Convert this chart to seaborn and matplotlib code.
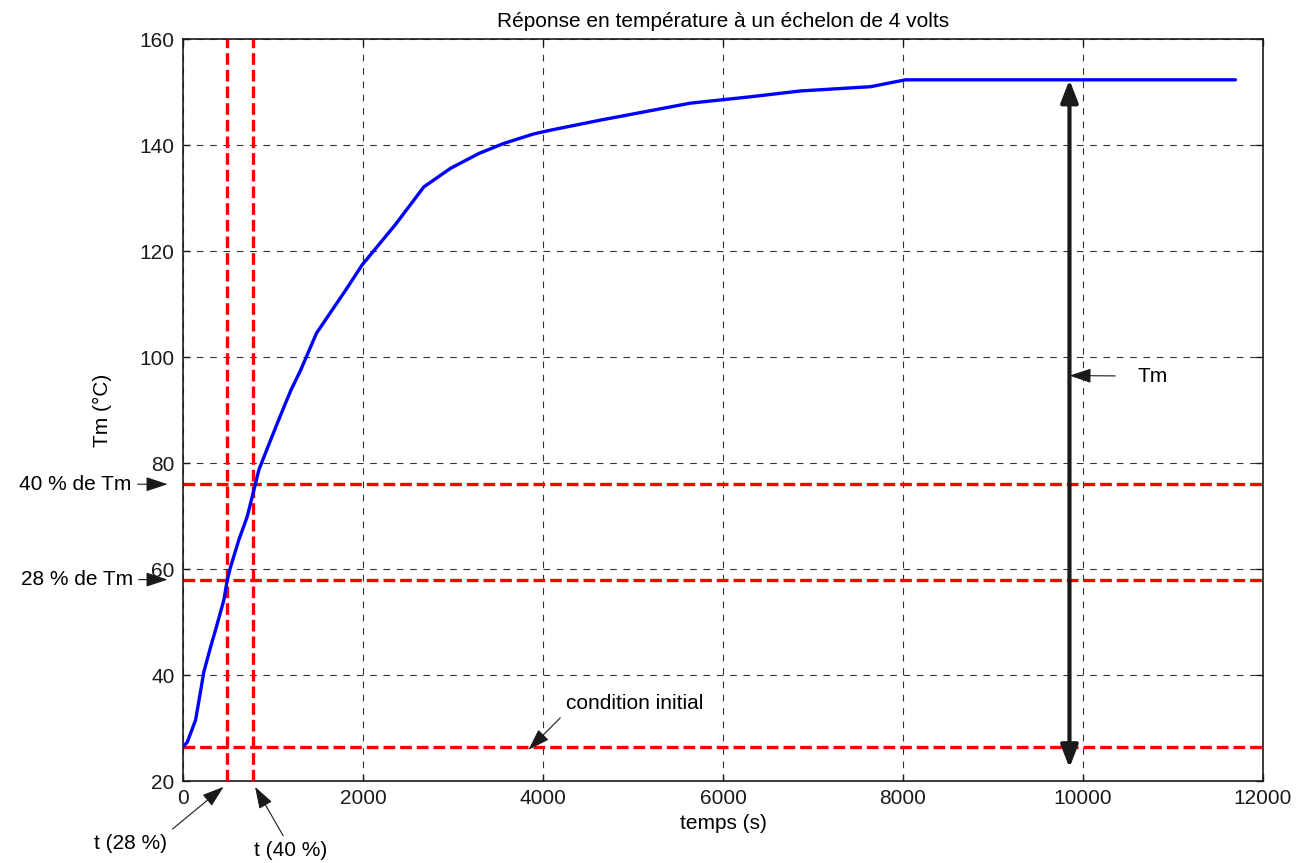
import matplotlib
matplotlib.use("Agg")
import matplotlib.pyplot as plt
import seaborn as sns
import pandas as pd

# Measured step response of the heater (4 V step)
temps_s = [0, 46, 139, 190, 231, 306, 361, 454, 491, 528, 620, 713, 787, 842, 972,
           1083, 1200, 1306, 1483, 1806, 1991, 2360, 2676, 2972, 3287, 3564,
           3898, 4083, 4639, 5639, 6306, 6861, 7639, 8028, 9000, 10000, 11694]
temperature = [26.5, 27.3, 31.5, 36.5, 40.6, 45.3, 48.5, 54.2, 57.9, 60.4, 65.5,
               69.9, 74.9, 78.7, 84.3, 89.0, 93.8, 97.5, 104.5, 112.6, 117.4,
               125.0, 132.1, 135.6, 138.4, 140.3, 142.1, 142.8, 144.7, 147.9,
               149.1, 150.2, 151.0, 152.3, 152.3, 152.3, 152.3]

# Reference levels and times
t_ini = 26.5
t_final = 152.3
level_40 = 76.0
level_28 = 58.0
time_28 = 490
time_40 = 775
tm_arrow_x = 9850

df = pd.DataFrame({"temps": temps_s, "T": temperature})

sns.set_theme(style="white")
plt.rcParams["font.family"] = ["Liberation Sans", "DejaVu Sans"]
plt.rcParams["font.size"] = 15
plt.rcParams["text.color"] = "black"
plt.rcParams["axes.labelcolor"] = "black"
plt.rcParams["xtick.color"] = "black"
plt.rcParams["ytick.color"] = "black"

fig = plt.figure(figsize=(13.02, 8.63), dpi=100)
ax = fig.add_axes([0.1406, 0.095, 0.8294, 0.8598])

sns.lineplot(data=df, x="temps", y="T", ax=ax, color="#0000ff", linewidth=2.4,
             zorder=4)

red_style = dict(color="#ff0000", linewidth=2.4, linestyle=(0, (3.5, 1.5)), zorder=3)
for lvl in (level_40, level_28, t_ini):
    ax.axhline(lvl, **red_style)
for tv in (time_28, time_40):
    ax.axvline(tv, **red_style)

ax.set_xlim(0, 12000)
ax.set_ylim(20, 160)
ax.set_xticks(range(0, 12001, 2000))
ax.set_yticks(range(20, 161, 20))
ax.grid(True, color="#333333", linestyle=(0, (6, 6)), linewidth=0.8)
ax.tick_params(direction="in", length=5, width=1, top=True, right=True,
               labelsize=15, colors="k", pad=6, bottom=True, left=True)
for s in ax.spines.values():
    s.set_color("k")
    s.set_linewidth(1.2)

ax.set_title("Réponse en température à un échelon de 4 volts", fontsize=15, pad=9)
ax.set_xlabel("temps (s)", fontsize=15, labelpad=4)
ax.set_ylabel("Tm (°C)", fontsize=15, labelpad=20)

# Double arrow showing the amplitude Tm
ax.annotate("", xy=(tm_arrow_x, t_final), xytext=(tm_arrow_x, 22.5),
            arrowprops=dict(arrowstyle="<|-|>,head_length=0.9,head_width=0.35",
                            color="k", lw=3, shrinkA=0, shrinkB=0),
            zorder=5)

head = "-|>,head_length=0.9,head_width=0.3"
thin = dict(arrowstyle=head, color="k", lw=0.8, shrinkA=2, shrinkB=0)

ax.annotate("Tm", xy=(tm_arrow_x, 96.5), xytext=(10611, 96.4),
            ha="left", va="center", fontsize=15,
            arrowprops=dict(thin, relpos=(0, 0.5), shrinkA=14))
ax.annotate("condition initial", xy=(3839, 25.9), xytext=(4250, 34.7),
            ha="left", va="center", fontsize=15,
            arrowprops=dict(thin, relpos=(0, 0)))
ax.annotate("40 % de Tm", xy=(-172, level_40), xytext=(-570, level_40),
            ha="right", va="center", fontsize=15, annotation_clip=False,
            arrowprops=dict(thin, relpos=(1, 0.5)))
ax.annotate("28 % de Tm", xy=(-172, level_28), xytext=(-560, level_28),
            ha="right", va="center", fontsize=15, annotation_clip=False,
            arrowprops=dict(thin, relpos=(1, 0.5)))
ax.annotate("t (28 %)", xy=(450, 18.9), xytext=(-583, 8.3),
            ha="center", va="center", fontsize=15, annotation_clip=False,
            arrowprops=dict(thin, relpos=(1, 1)))
ax.annotate("t (40 %)", xy=(800, 18.9), xytext=(1190, 6.8),
            ha="center", va="center", fontsize=15, annotation_clip=False,
            arrowprops=dict(thin, relpos=(0.45, 1)))

fig.savefig("out.png", dpi=100, facecolor="white")
